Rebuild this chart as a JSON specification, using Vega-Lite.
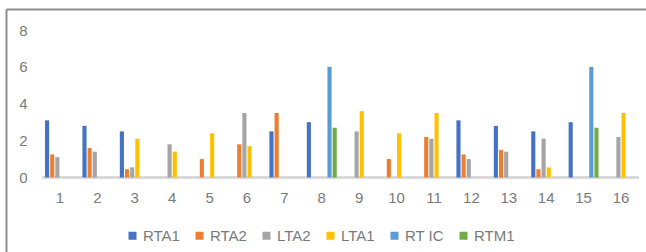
{
  "$schema": "https://vega.github.io/schema/vega-lite/v6.json",
  "width": 640,
  "height": 243,
  "autosize": {"type": "none"},
  "padding": {"left": 6, "top": 9, "right": 0, "bottom": 0},
  "background": "white",
  "data": {"values": [
    {"cat": "1", "series": "RTA1", "v": 3.1},
    {"cat": "1", "series": "RTA2", "v": 1.25},
    {"cat": "1", "series": "LTA2", "v": 1.1},
    {"cat": "2", "series": "RTA1", "v": 2.8},
    {"cat": "2", "series": "RTA2", "v": 1.6},
    {"cat": "2", "series": "LTA2", "v": 1.4},
    {"cat": "3", "series": "RTA1", "v": 2.5},
    {"cat": "3", "series": "RTA2", "v": 0.45},
    {"cat": "3", "series": "LTA2", "v": 0.55},
    {"cat": "3", "series": "LTA1", "v": 2.1},
    {"cat": "4", "series": "LTA2", "v": 1.8},
    {"cat": "4", "series": "LTA1", "v": 1.4},
    {"cat": "5", "series": "RTA2", "v": 1.0},
    {"cat": "5", "series": "LTA1", "v": 2.4},
    {"cat": "6", "series": "RTA2", "v": 1.8},
    {"cat": "6", "series": "LTA2", "v": 3.5},
    {"cat": "6", "series": "LTA1", "v": 1.7},
    {"cat": "7", "series": "RTA1", "v": 2.5},
    {"cat": "7", "series": "RTA2", "v": 3.5},
    {"cat": "8", "series": "RTA1", "v": 3.0},
    {"cat": "8", "series": "RT IC", "v": 6.0},
    {"cat": "8", "series": "RTM1", "v": 2.7},
    {"cat": "9", "series": "LTA2", "v": 2.5},
    {"cat": "9", "series": "LTA1", "v": 3.6},
    {"cat": "10", "series": "RTA2", "v": 1.0},
    {"cat": "10", "series": "LTA1", "v": 2.4},
    {"cat": "11", "series": "RTA2", "v": 2.2},
    {"cat": "11", "series": "LTA2", "v": 2.1},
    {"cat": "11", "series": "LTA1", "v": 3.5},
    {"cat": "12", "series": "RTA1", "v": 3.1},
    {"cat": "12", "series": "RTA2", "v": 1.25},
    {"cat": "12", "series": "LTA2", "v": 1.0},
    {"cat": "13", "series": "RTA1", "v": 2.8},
    {"cat": "13", "series": "RTA2", "v": 1.5},
    {"cat": "13", "series": "LTA2", "v": 1.4},
    {"cat": "14", "series": "RTA1", "v": 2.5},
    {"cat": "14", "series": "RTA2", "v": 0.45},
    {"cat": "14", "series": "LTA2", "v": 2.1},
    {"cat": "14", "series": "LTA1", "v": 0.55},
    {"cat": "15", "series": "RTA1", "v": 3.0},
    {"cat": "15", "series": "RT IC", "v": 6.0},
    {"cat": "15", "series": "RTM1", "v": 2.7},
    {"cat": "16", "series": "LTA2", "v": 2.2},
    {"cat": "16", "series": "LTA1", "v": 3.5}
  ]},
  "layer": [
    {
      "mark": {"type": "rule", "color": "#D9D9D9", "strokeWidth": 2.5},
      "encoding": {
        "x": {"datum": "1", "type": "ordinal", "bandPosition": -0.1,
              "scale": {"domain": ["1","2","3","4","5","6","7","8","9","10","11","12","13","14","15","16"], "paddingInner": 0.2, "paddingOuter": 0.656, "align": 0.795},
              "axis": {"orient": "top", "title": null}},
        "x2": {"datum": "16", "bandPosition": 1.1},
        "y": {"datum": 0, "type": "quantitative",
              "scale": {"domain": [-4.04, 9.139], "nice": false, "zero": false},
              "axis": {"orient": "left", "title": null, "values": [0, 2, 4, 6, 8]}}
      }
    },
    {
      "mark": {"type": "bar"},
      "encoding": {
        "x": {"field": "cat", "type": "ordinal",
              "scale": {"domain": ["1","2","3","4","5","6","7","8","9","10","11","12","13","14","15","16"], "paddingInner": 0.2, "paddingOuter": 0.656, "align": 0.795},
              "axis": {"orient": "top", "title": null}},
        "xOffset": {"field": "series", "type": "nominal",
              "scale": {"domain": ["RTA1", "RTA2", "LTA2", "LTA1", "RT IC", "RTM1"], "paddingInner": 0.2, "paddingOuter": 0}},
        "y": {"field": "v", "type": "quantitative",
              "scale": {"domain": [-4.04, 9.139], "nice": false, "zero": false},
              "axis": {"orient": "left", "title": null, "values": [0, 2, 4, 6, 8]}},
        "y2": {"datum": 0},
        "color": {"field": "series", "type": "nominal",
              "scale": {"domain": ["RTA1", "RTA2", "LTA2", "LTA1", "RT IC", "RTM1"],
                        "range": ["#4472C4", "#ED7D31", "#A5A5A5", "#FFC000", "#5B9BD5", "#70AD47"]},
              "legend": {"title": null, "orient": "none", "direction": "horizontal", "legendX": 119, "legendY": 219}}
      }
    }
  ],
  "config": {
    "view": {"stroke": null},
    "font": "Liberation Sans",
    "axisX": {
      "domain": true, "domainColor": "#8C8C8C", "domainWidth": 2,
      "ticks": false, "grid": false,
      "labelFont": "Liberation Sans", "labelFontSize": 15, "labelColor": "#7A7A7A",
      "labelPadding": -188, "labelBaseline": "middle", "labelAngle": 0
    },
    "axisY": {
      "domain": true, "domainColor": "#8C8C8C", "domainWidth": 2,
      "ticks": false, "grid": false,
      "labelFont": "Liberation Sans", "labelFontSize": 15, "labelColor": "#7A7A7A",
      "labelPadding": -21, "labelAlign": "right", "labelBaseline": "middle"
    },
    "legend": {
      "padding": 0,
      "symbolType": "square", "symbolSize": 64, "symbolStrokeWidth": 0,
      "labelFont": "Liberation Sans", "labelFontSize": 15, "labelColor": "#7A7A7A",
      "labelOffset": 3, "columnPadding": 12
    }
  }
}
